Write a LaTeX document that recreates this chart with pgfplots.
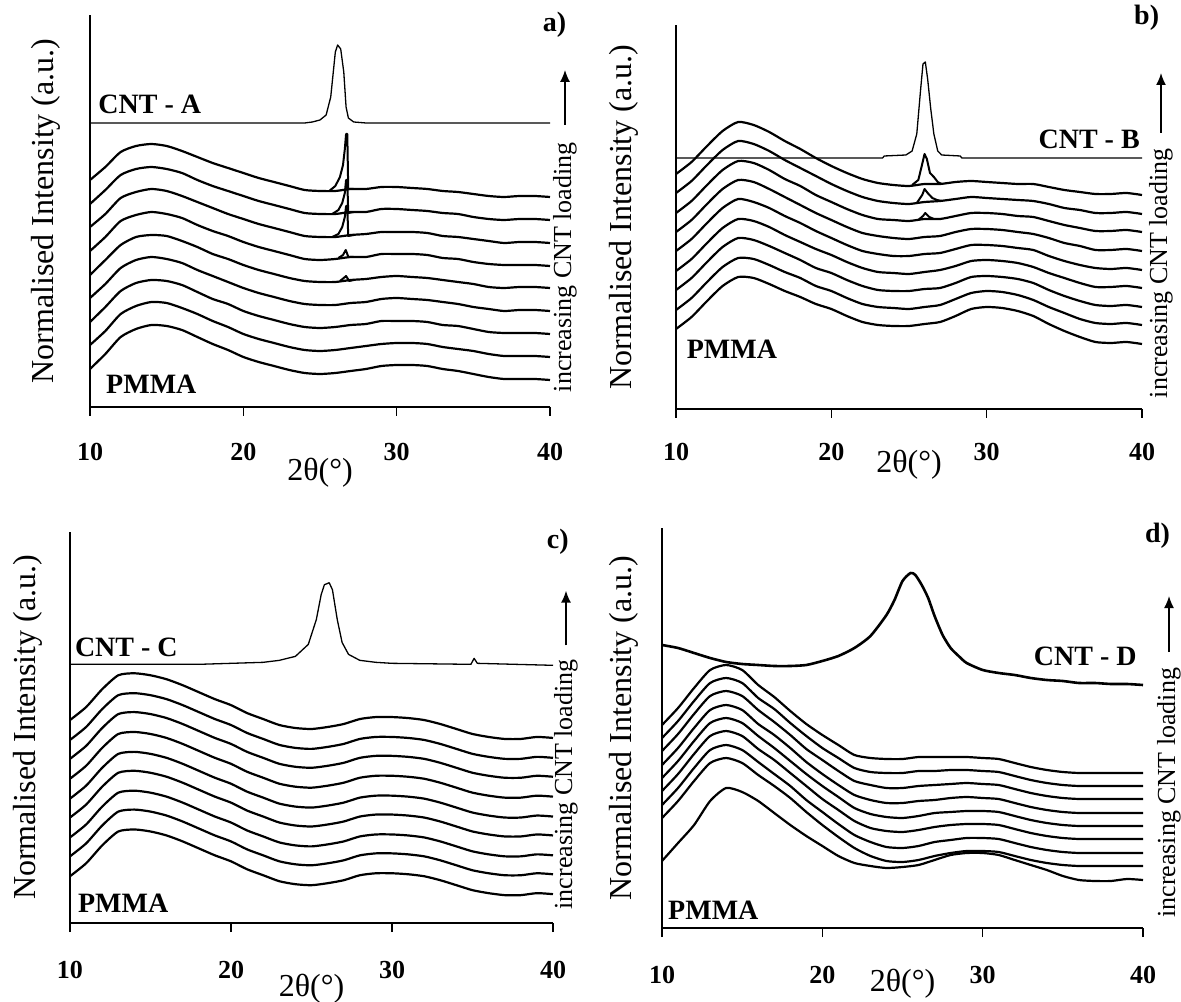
\documentclass[border=0pt]{standalone}
\usepackage{fontspec}
\setmainfont{Liberation Serif}
\usepackage{pgfplots}
\usepackage{pgfplotstable}
\pgfplotsset{compat=1.18}
\usetikzlibrary{arrows.meta}

% panel a: 9 PMMA/CNT-A composites, y in px above the axis
\pgfplotstableread{
x a0 a1 a2 a3 a4 a5 a6 a7 a8
10 38 62 85 109 132 156 180 203 227
11 53 76 100 123 147 170 193 217 240
12 70 93 116 139 162 186 209 232 255
13 78 101 124 147 170 192 215 238 261
14 82 105 127 150 172 195 218 240 263
15 81 104 126 148 171 193 216 238 261
16 77 99 122 144 166 189 211 234 256
17 70 93 115 137 160 182 205 227 250
18 63 86 108 131 153 176 199 221 244
19 57 80 103 125 148 171 193 216 239
20 50 73 96 119 142 165 188 211 234
21 45 68 91 114 137 160 183 206 229
22 41 64 87 110 133 156 179 202 225
23 37 60 83 106 129 152 175 198 221
24 34 57 80 103 126 148 171 194 217
25 33 56 79 102 125 147 170 193 216
26 34 57 80 102 125 148 170 193 216
27 36 59 82 104 127 150 172 195 218
28 38 61 83 105 128 150 173 195 218
29 41 63 86 108 130 153 175 198 220
30 42 64 86 109 131 153 175 198 220
31 42 64 86 108 130 153 175 197 219
32 41 63 85 107 129 152 174 196 218
33 38 60 82 105 127 149 171 194 216
34 36 58 81 103 125 148 170 193 215
35 33 56 78 100 123 145 168 190 213
36 30 53 75 98 120 143 166 188 211
37 28 51 74 96 119 142 164 187 210
38 28 51 74 97 120 142 165 188 211
39 28 51 74 97 120 142 165 188 211
40 27 50 73 96 119 141 164 187 210
}\tabA

\pgfplotstableread{
x b0 b1 b2 b3 b4 b5 b6 b7 b8
10 80 99 119 138 158 177 196 216 235
11 92 111 131 150 170 189 208 228 247
12 108 127 147 166 186 205 224 244 263
13 123 142 162 181 201 220 239 259 278
14 132 151 171 190 210 229 248 268 287
15 131 150 169 188 207 227 246 265 284
16 125 144 163 182 201 220 239 258 277
17 118 137 156 174 193 212 230 249 268
18 112 131 149 167 186 204 223 241 260
19 105 123 141 160 178 196 214 233 251
20 100 118 136 154 171 189 207 225 243
21 93 111 129 147 164 182 200 218 236
22 87 105 123 141 158 176 194 212 230
23 84 102 119 137 155 173 190 208 226
24 83 101 118 136 153 171 189 206 224
25 83 100 118 135 153 170 188 205 223
26 85 102 120 137 155 172 190 207 225
27 87 104 121 139 156 173 190 208 225
28 93 110 126 143 160 177 193 210 227
29 100 116 132 148 164 180 196 212 228
30 102 118 133 149 164 180 196 211 227
31 101 117 132 148 163 179 195 210 226
32 98 114 130 146 161 177 193 209 225
33 93 109 126 142 159 175 192 208 225
34 85 102 119 136 153 171 188 205 222
35 78 96 113 131 148 166 184 201 219
36 72 90 108 126 144 163 181 199 217
37 67 86 104 122 141 159 178 196 215
38 66 85 103 122 140 159 178 196 215
39 67 86 104 123 141 160 179 197 216
40 65 84 102 121 139 158 177 195 214
}\tabB

\pgfplotstableread{
x c0 c1 c2 c3 c4 c5 c6 c7 c8
10 47 67 86 106 125 145 165 184 204
11 60 80 99 119 138 158 178 197 217
12 78 98 117 137 156 176 196 215 235
13 92 112 131 151 170 190 210 229 249
14 94 114 133 153 172 192 212 231 251
15 92 112 131 151 170 190 210 229 249
16 88 108 127 147 166 186 206 225 245
17 82 102 121 141 160 180 200 219 239
18 75 95 114 134 153 173 193 212 232
19 68 88 107 127 146 166 186 205 225
20 62 82 101 121 140 160 180 199 219
21 54 74 93 113 132 152 172 191 211
22 48 68 87 107 126 146 166 185 205
23 42 62 81 101 120 140 160 179 199
24 39 59 78 98 117 137 157 176 196
25 38 58 77 97 116 136 156 175 195
26 40 60 79 99 118 138 158 177 197
27 43 63 82 102 121 141 161 180 200
28 48 68 87 107 126 146 166 185 205
29 50 70 89 109 128 148 168 187 207
30 50 70 89 109 128 148 168 187 207
31 49 69 88 108 127 147 167 186 206
32 47 67 86 106 125 145 165 184 204
33 43 63 82 102 121 141 161 180 200
34 38 58 77 97 116 136 156 175 195
35 33 53 72 92 111 131 151 170 190
36 30 50 69 89 108 128 148 167 187
37 28 48 67 87 106 126 146 165 185
38 28 48 67 87 106 126 146 165 185
39 30 50 69 89 108 128 148 167 187
40 29 49 68 88 107 127 147 166 186
}\tabC

\pgfplotstableread{
x d0 d1 d2 d3 d4 d5 d6 d7 d8
10 67 110 123 137 150 163 177 190 203
11 85 127 140 154 167 180 194 207 220
12 103 147 160 174 187 200 214 227 240
13 127 165 178 192 205 218 232 245 258
14 140 170 183 197 210 223 237 250 263
15 136 165 178 192 205 218 232 245 258
16 127 153 166 179 192 204 218 230 243
17 115 142 154 168 180 193 206 219 231
18 103 130 142 155 167 180 193 205 217
19 92 116 128 142 154 166 179 192 204
20 82 103 116 129 142 154 168 180 193
21 72 91 104 118 131 143 157 170 183
22 65 80 93 107 120 133 147 160 173
23 62 72 86 100 114 128 143 156 170
24 60 67 81 97 111 125 140 155 169
25 61 66 80 96 110 125 140 155 169
26 63 68 82 98 112 127 142 157 171
27 68 72 86 101 115 128 143 157 171
28 73 75 88 103 116 130 144 158 171
29 75 77 90 104 117 131 145 158 171
30 75 77 90 104 117 130 144 157 170
31 73 76 89 103 116 129 143 156 169
32 68 72 85 99 112 125 139 152 165
33 63 68 81 95 108 121 135 148 161
34 58 65 78 92 105 118 132 145 158
35 52 63 76 90 103 116 130 143 156
36 48 62 75 89 102 115 129 142 155
37 47 62 75 89 102 115 129 142 155
38 47 62 75 89 102 115 129 142 155
39 49 62 75 89 102 115 129 142 155
40 48 62 75 89 102 115 129 142 155
}\tabD

\pgfplotsset{
  xrd/.style={
    scale only axis, clip=false,
    xmin=10, xmax=40, ymin=0,
    axis x line*=bottom, axis y line*=left,
    axis line style={line width=0.75pt},
    xtick={10,20,30,40}, ytick=\empty,
    xtick align=outside, major tick length=4.5pt,
    tick style={black, line width=0.8pt},
    /pgf/number format/assume math mode=true,
    xticklabel style={font=\bfseries\fontsize{13}{13}\selectfont, anchor=center},
  },
  pat/.style={black, line width=1.1pt, smooth, tension=0.4, line join=round},
  spk/.style={black, line width=1pt, line join=round},
  cnt/.style={black, line width=0.65pt, line join=round},
}
\newcommand{\lab}{\fontsize{16}{16}\selectfont}
\newcommand{\tag}{\bfseries\fontsize{14}{14}\selectfont}
\newcommand{\inc}{\fontsize{13}{13}\selectfont}
% short downward tick marks on the 2theta axis
\newcommand{\ticks}{%
  \draw[line width=0.8pt] (axis cs:10,0) -- ([yshift=-4.5pt]axis cs:10,0);
  \draw[line width=0.8pt] (axis cs:20,0) -- ([yshift=-4.5pt]axis cs:20,0);
  \draw[line width=0.8pt] (axis cs:30,0) -- ([yshift=-4.5pt]axis cs:30,0);
  \draw[line width=0.8pt] (axis cs:40,0) -- ([yshift=-4.5pt]axis cs:40,0);}

\begin{document}
\begin{tikzpicture}
\useasboundingbox (0,0) rectangle (590.5pt,500.5pt);

% ---------------- a)
\begin{axis}[xrd, at={(45pt,297pt)}, anchor=south west,
  width=230pt, height=196pt, ymax=392,
  xticklabel style={yshift=-18pt}]
\foreach \c in {a0,a1,a2,a3,a4,a5,a6,a7,a8}{
  \addplot[pat] table[x=x, y=\c] {\tabA};
}
\addplot[spk] coordinates {(25.6,216)(26.0,221)(26.3,230)(26.5,242)(26.62,258)(26.7,273)(26.78,273)(26.84,218)(27.2,218)};
\addplot[spk] coordinates {(25.8,193)(26.2,197)(26.45,204)(26.62,214)(26.7,227)(26.78,227)(26.84,194)(27.2,195)};
\addplot[spk] coordinates {(25.8,170)(26.2,173)(26.45,180)(26.62,190)(26.7,201)(26.78,201)(26.84,171)(27.2,172)};
\addplot[spk] coordinates {(26.2,149)(26.5,152)(26.68,157)(26.85,150)(27.2,150)};
\addplot[spk] coordinates {(26.3,126)(26.55,129)(26.7,131)(26.9,126)(27.2,127)};
\addplot[cnt] coordinates {(10,284)(24,284)(24.5,285)(25,287)(25.4,292)(25.7,310)(26.0,355)(26.15,362)(26.35,358)(26.55,335)(26.7,300)(26.85,289)(27.2,285)(28,284)(40,284)};
\ticks
\node[font=\tag] at (axis cs:13.9,303) {CNT - A};
\node[font=\tag] at (axis cs:14,23) {PMMA};
\node[font=\tag] at (rel axis cs:1.01,0.975) {a)};
\node[rotate=90, font=\lab] at ([xshift=-22pt]rel axis cs:0,0.5) {Normalised Intensity (a.u.)};
\node[font=\lab] at ([yshift=-33pt]rel axis cs:0.5,0) {2θ(°)};
\node[rotate=90, anchor=west, font=\inc] at ([xshift=7.5pt]rel axis cs:1,0.02) {increasing CNT loading};
\draw[-{Latex[length=6pt,width=5pt]}, line width=0.8pt] ([xshift=7.5pt]rel axis cs:1,0.72) -- ([xshift=7.5pt]rel axis cs:1,0.86);
\end{axis}

% ---------------- b)
\begin{axis}[xrd, at={(338pt,296pt)}, anchor=south west,
  width=233pt, height=192pt, ymax=384,
  xticklabel style={yshift=-17pt}]
\foreach \c in {b0,b1,b2,b3,b4,b5,b6,b7,b8}{
  \addplot[pat] table[x=x, y=\c] {\tabB};
}
\addplot[spk] coordinates {(25.2,224)(25.6,229)(25.85,245)(26.0,255)(26.15,250)(26.35,236)(26.6,232)(26.85,227)(27.1,225)};
\addplot[spk] coordinates {(25.5,206)(25.85,214)(26.0,220)(26.2,216)(26.5,211)(26.8,209)(27.1,208)};
\addplot[spk] coordinates {(25.6,189)(25.9,193)(26.05,196)(26.3,192)(26.6,190)};
\addplot[cnt] coordinates {(10,251)(23.3,251)(23.4,253)(24.8,254)(25.2,258)(25.5,275)(25.75,320)(25.9,345)(26.05,347)(26.2,330)(26.4,300)(26.6,275)(26.85,258)(27.1,254)(28.3,253)(28.4,251)(40,251)};
\ticks
\node[font=\tag] at (axis cs:36.6,270) {CNT - B};
\node[font=\tag] at (axis cs:13.6,60) {PMMA};
\node[font=\tag] at (rel axis cs:1.01,1.02) {b)};
\node[rotate=90, font=\lab] at ([xshift=-26pt]rel axis cs:0,0.5) {Normalised Intensity (a.u.)};
\node[font=\lab] at ([yshift=-28pt]rel axis cs:0.5,0) {2θ(°)};
\node[rotate=90, anchor=west, font=\inc] at ([xshift=9.5pt]rel axis cs:1,0.01) {increasing CNT loading};
\draw[-{Latex[length=6pt,width=5pt]}, line width=0.8pt] ([xshift=9.5pt]rel axis cs:1,0.72) -- ([xshift=9.5pt]rel axis cs:1,0.875);
\end{axis}

% ---------------- c)
\begin{axis}[xrd, at={(35pt,39pt)}, anchor=south west,
  width=241.5pt, height=195.5pt, ymax=393,
  xticklabel style={yshift=-19pt}]
\foreach \c in {c0,c1,c2,c3,c4,c5,c6,c7,c8}{
  \addplot[pat] table[x=x, y=\c] {\tabC};
}
\addplot[cnt] coordinates {(10,260)(18,260)(20,261)(22,262)(23,264)(24,268)(24.8,280)(25.3,305)(25.6,330)(25.8,340)(26.1,342)(26.3,335)(26.6,305)(26.9,282)(27.3,270)(28,264)(29,262)(30,261)(34.9,260)(35.1,266)(35.3,261)(40,259)};
\ticks
\node[font=\tag] at (axis cs:13.5,277) {CNT - C};
\node[font=\tag] at (axis cs:13.3,20) {PMMA};
\node[font=\tag] at (rel axis cs:1.01,0.975) {c)};
\node[rotate=90, font=\lab] at ([xshift=-21pt]rel axis cs:0,0.5) {Normalised Intensity (a.u.)};
\node[font=\lab] at ([yshift=-33pt]rel axis cs:0.5,0) {2θ(°)};
\node[rotate=90, anchor=west, font=\inc] at ([xshift=6.5pt]rel axis cs:1,0.017) {increasing CNT loading};
\draw[-{Latex[length=6pt,width=5pt]}, line width=0.8pt] ([xshift=6.5pt]rel axis cs:1,0.71) -- ([xshift=6.5pt]rel axis cs:1,0.85);
\end{axis}

% ---------------- d)
\begin{axis}[xrd, at={(331pt,36.5pt)}, anchor=south west,
  width=240.5pt, height=200pt, ymax=400,
  xticklabel style={yshift=-19pt}]
\foreach \c in {d0,d1,d2,d3,d4,d5,d6,d7,d8}{
  \addplot[pat] table[x=x, y=\c] {\tabD};
}
\addplot[pat, line width=1.3pt] coordinates {(10,283)(11,280)(12,275)(13,270)(14,266)(15,264)(16,263)(17,262)(18,262)(19,263)(20,267)(21,272)(22,280)(23,292)(24,313)(24.5,328)(25,347)(25.5,355)(25.8,353)(26.2,343)(26.6,330)(27,312)(27.5,293)(28,280)(28.5,272)(29,265)(30,258)(31,255)(32,253)(33,250)(34,248)(35,247)(36,245)(37,245)(38,244)(39,244)(40,243)};
\ticks
\node[font=\tag] at (axis cs:36.4,272) {CNT - D};
\node[font=\tag] at (axis cs:13.2,18) {PMMA};
\node[font=\tag] at (rel axis cs:1.03,0.98) {d)};
\node[rotate=90, font=\lab] at ([xshift=-19pt]rel axis cs:0,0.5) {Normalised Intensity (a.u.)};
\node[font=\lab] at ([yshift=-28pt]rel axis cs:0.5,0) {2θ(°)};
\node[rotate=90, anchor=west, font=\inc] at ([xshift=13pt]rel axis cs:1,0.008) {increasing CNT loading};
\draw[-{Latex[length=6pt,width=5pt]}, line width=0.8pt] ([xshift=13pt]rel axis cs:1,0.69) -- ([xshift=13pt]rel axis cs:1,0.83);
\end{axis}
\end{tikzpicture}
\end{document}
